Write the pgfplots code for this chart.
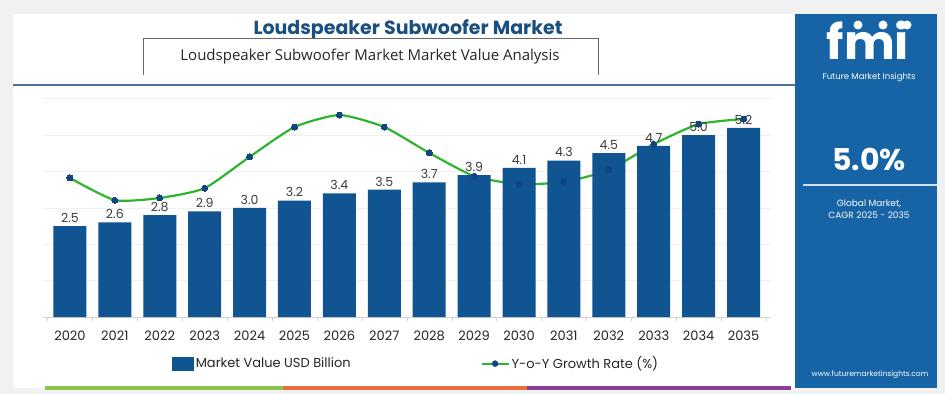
\documentclass[border=0pt]{standalone}
\usepackage{fontspec}
\usepackage{pgfplots}
\usepackage{pgfplotstable}
\pgfplotsset{compat=1.18}
\setmainfont{Poppins}
\newfontfamily\osans{Open Sans}
\definecolor{barblue}{RGB}{16,84,145}
\definecolor{panelblue}{RGB}{22,100,166}
\definecolor{titleblue}{RGB}{27,79,128}
\definecolor{linegreen}{RGB}{48,180,48}
\definecolor{markblue}{RGB}{15,70,130}
\definecolor{bgc}{RGB}{241,241,241}
\definecolor{labelgray}{RGB}{60,60,60}
\definecolor{stripegreen}{RGB}{140,195,75}
\definecolor{stripeorange}{RGB}{235,110,60}
\definecolor{stripepurple}{RGB}{140,60,150}

\pgfplotstableread{
x value growth
0 2.5 3.82
1 2.6 3.21
2 2.8 3.27
3 2.9 3.54
4 3.0 4.40
5 3.2 5.22
6 3.4 5.55
7 3.5 5.22
8 3.7 4.51
9 3.9 3.87
10 4.1 3.65
11 4.3 3.71
12 4.5 4.04
13 4.7 4.75
14 5.0 5.30
15 5.2 5.44
}\data

\begin{document}
\begin{tikzpicture}
\path[use as bounding box] (0pt,0pt) rectangle (945pt,394pt);
\begin{scope}[x=1pt,y=1pt]
\fill[bgc] (0,0) rectangle (945,394);
\fill[white, rounded corners=4pt] (13,6) rectangle (800,380);
\fill[panelblue] (795,6) rectangle (937,380);
% title
\node[font=\fontsize{19}{22}\selectfont\bfseries, text=titleblue] at (408,364) {Loudspeaker Subwoofer Market};
\draw[gray!80!black, line width=0.8pt] (143,319) -- (143,356) -- (598,356) -- (598,319);
\node[font=\osans\fontsize{15}{18}\selectfont, text=black!85] at (370,337) {Loudspeaker Subwoofer Market Market Value Analysis};
\draw[titleblue!80, line width=1.6pt] (13,309) -- (795,309);
% bottom stripes
\fill[stripegreen] (45,4) rectangle (283,8);
\fill[stripeorange] (283,4) rectangle (527,8);
\fill[stripepurple] (527,4) rectangle (791,8);
% panel
\node[font=\fontsize{48}{48}\selectfont\bfseries, text=white, anchor=base, inner sep=0pt] at (868,334) {fmi};
\foreach \xx in {858,883,907} \fill[white] (\xx,369) circle (4.5);
\node[font=\fontsize{8.5}{10}\selectfont, text=white, inner sep=0.5pt] at (869,317) {Future Market Insights};
\node[font=\fontsize{30}{34}\selectfont\bfseries, text=white] at (869,235) {5.0\%};
\draw[white!80!panelblue, line width=1.5pt] (803,209) -- (937,209);
\node[font=\fontsize{9}{11}\selectfont, text=white, align=center] at (869,185) {Global Market,\\[1pt]CAGR 2025 - 2035};
\node[font=\fontsize{7.5}{9}\selectfont, text=white] at (870,19) {www.futuremarketinsights.com};
\end{scope}

\begin{axis}[
  at={(43pt,77pt)}, anchor=south west, scale only axis,
  width=727.5pt, height=222pt,
  xmin=-0.6, xmax=15.6, ymin=0, ymax=6.1,
  axis x line*=bottom, axis y line*=left,
  x axis line style={draw=gray!35, line width=0.6pt},
  y axis line style={draw=none},
  ytick={1,2,3,4,5,6}, yticklabels={}, ytick style={draw=none},
  ymajorgrids, grid style={gray!12, line width=0.6pt},
  xtick={0,...,15},
  xticklabels={2020,2021,2022,2023,2024,2025,2026,2027,2028,2029,2030,2031,2032,2033,2034,2035},
  major x tick style={draw=none},
  minor xtick={-0.5,0.5,...,15.5},
  minor x tick style={draw=gray!35},
  minor tick length=4pt,
  tick align=outside,
  xticklabel style={font=\fontsize{13}{15}\selectfont, text=black!85, yshift=-6pt},
  legend style={at={(0.513,-0.21)}, anchor=center, draw=none, fill=none,
    legend columns=2, font=\fontsize{13}{15}\selectfont, text=black!85,
    /tikz/every even column/.append style={column sep=128pt}},
  legend cell align=left,
  clip=false,
]
\addlegendimage{legend image code/.code={\fill[barblue] (0pt,-6.5pt) rectangle (21pt,6.5pt);}}
\addlegendentry{Market Value USD Billion}
\addlegendimage{legend image code/.code={\draw[linegreen, line width=2pt] (0pt,0pt) -- (27pt,0pt); \fill[markblue] (13.5pt,0pt) circle (3pt);}}
\addlegendentry{Y-o-Y Growth Rate (\%)}

\addplot[linegreen, line width=2.2pt, smooth, tension=0.35, mark=*, mark size=3pt,
  mark options={fill=markblue, draw=markblue, line width=0pt}, forget plot]
  table[x=x, y=growth]{\data};
\addplot[ybar, bar width=33pt, fill=barblue, draw=none, forget plot,
  nodes near coords, point meta=y,
  nodes near coords style={font=\fontsize{12.5}{14}\selectfont, text=labelgray,
    /pgf/number format/.cd, fixed, fixed zerofill, precision=1, assume math mode=true}]
  table[x=x, y=value]{\data};
\end{axis}
\end{tikzpicture}
\end{document}
